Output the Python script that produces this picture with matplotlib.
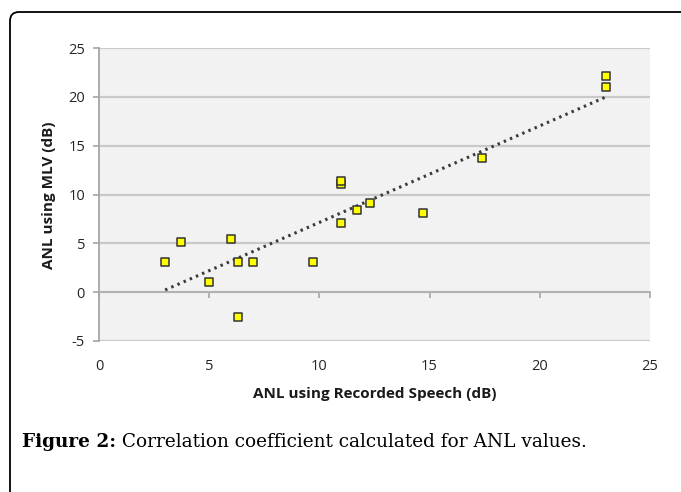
import numpy as np
import matplotlib.pyplot as plt
from matplotlib.patches import FancyBboxPatch

# ANL values
recorded_speech = [3.0, 3.7, 5.0, 6.0, 6.3, 6.3, 7.0, 9.7, 11.0, 11.0, 11.0, 11.7, 12.3, 14.7, 17.4, 23.0, 23.0]
mlv = [3.1, 5.1, 1.0, 5.4, 3.1, -2.5, 3.1, 3.1, 7.1, 11.1, 11.4, 8.4, 9.1, 8.1, 13.7, 21.0, 22.1]

x_ticks = [0, 5, 10, 15, 20, 25]
y_ticks = [-5, 0, 5, 10, 15, 20, 25]

fig = plt.figure(figsize=(6.81, 4.92), dpi=100)

# rounded frame around the figure (runs off the right and bottom edge)
frame = FancyBboxPatch((0.10, -0.5), 7.5, 4.80 + 0.5,
                       boxstyle="round,pad=0,rounding_size=0.09",
                       transform=fig.dpi_scale_trans, fill=False,
                       edgecolor='black', linewidth=1.3, clip_on=False)
fig.patches.append(frame)

ax = fig.add_axes([99 / 681, 1 - 341 / 492, 551 / 681, 293 / 492])
ax.set_facecolor('#f2f2f2')
ax.set_xlim(0, 25)
ax.set_ylim(-5, 25)

ax.yaxis.grid(True, color='#c9c9c9', linewidth=1.6)
ax.set_axisbelow(True)
for s in ['top', 'right']:
    ax.spines[s].set_visible(False)
ax.spines['left'].set_color('#a6a6a6')
ax.spines['left'].set_linewidth(1.3)
ax.spines['bottom'].set_position(('data', 0))
ax.spines['bottom'].set_color('#b0b0b0')
ax.spines['bottom'].set_linewidth(1.3)

tick_font = dict(family='Open Sans', size=10.5)
ax.set_yticks(y_ticks)
ax.set_yticklabels([str(v) for v in y_ticks], fontdict=tick_font, color='#262626')
ax.tick_params(axis='y', length=4, color='#a6a6a6', width=1.2, pad=6)
ax.set_xticks(x_ticks)
ax.tick_params(axis='x', length=4, color='#a6a6a6', width=1.2, labelbottom=False)

# x tick labels sit below the plot area
sec = ax.secondary_xaxis(location=0.0)
sec.set_xticks(x_ticks)
sec.set_xticklabels([str(v) for v in x_ticks], fontdict=tick_font, color='#262626')
sec.tick_params(length=0, pad=13)
sec.spines['bottom'].set_visible(False)

# linear trendline
coef = np.polyfit(recorded_speech, mlv, 1)
xs = np.array([min(recorded_speech), max(recorded_speech)])
ax.plot(xs, np.polyval(coef, xs), color='#3a3a3a', linewidth=2.2,
        linestyle=(0, (0.8, 1.4)), zorder=3)

ax.scatter(recorded_speech, mlv, marker='s', s=30, facecolor='#ffff00',
           edgecolor='#333333', linewidth=1.1, zorder=4)

fig.text(375 / 681, 1 - 394 / 492, 'ANL using Recorded Speech (dB)', ha='center', va='center',
         family='Open Sans', weight='bold', size=11, color='#1a1a1a')
fig.text(49 / 681, 1 - 195 / 492, 'ANL using MLV (dB)', ha='center', va='center', rotation=90,
         family='Open Sans', weight='bold', size=11, color='#1a1a1a')

# caption
cap = fig.text(22 / 681, 1 - 447 / 492, 'Figure 2:', family='DejaVu Serif', weight='bold',
               size=13.3, color='black', va='baseline')
plt.annotate(' Correlation coefficient calculated for ANL values.', xy=(1, 0), xycoords=cap,
             va='bottom', ha='left', family='DejaVu Serif', size=13.3, color='black')

fig.savefig('out.png', dpi=100)
